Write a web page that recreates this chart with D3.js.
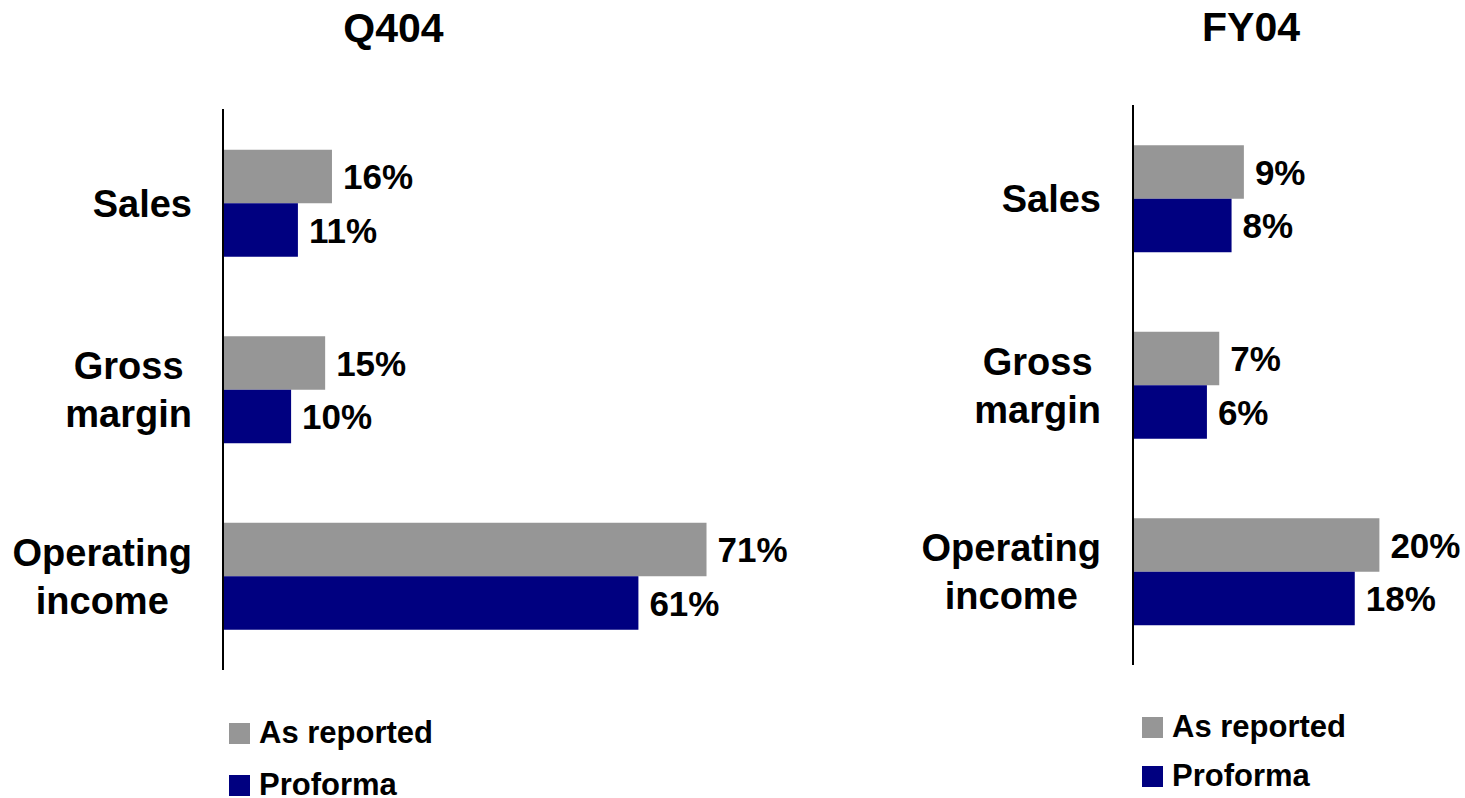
<!DOCTYPE html>
<html>
<head>
<meta charset="utf-8">
<script src="https://cdn.jsdelivr.net/npm/d3@7/dist/d3.min.js"></script>
<style>
  html, body { margin: 0; padding: 0; background: #fff; }
  svg { display: block; }
  text { font-family: "Liberation Sans", Arial, Helvetica, sans-serif; font-weight: bold; fill: #000; }
</style>
</head>
<body>
<svg id="chart" width="1465" height="798"></svg>
<script>
// Growth rates, as reported vs. proforma
const categories = ["Sales", "Gross margin", "Operating income"];
const seriesNames = ["As reported", "Proforma"];
const q404Reported = [16, 15, 71];
const q404Proforma = [11, 10, 61];
const fy04Reported = [9, 7, 20];
const fy04Proforma = [8, 6, 18];

const colors = { "As reported": "#969696", "Proforma": "#000080" };

const svg = d3.select("#chart");

// Layout of the two side-by-side panels
const panels = [
  {
    title: "Q404", titleX: 393.5, titleY: 42,
    reported: q404Reported, proforma: q404Proforma,
    axisX: 223, axisTop: 109, axisBottom: 670,
    bandTop: 110, bandBottom: 669.5,
    pxPerUnit: 6.81, labelRight: 192,
    legend: { x: 229, y: 723, gap: 52 }
  },
  {
    title: "FY04", titleX: 1251, titleY: 41,
    reported: fy04Reported, proforma: fy04Proforma,
    axisX: 1133, axisTop: 105, axisBottom: 665,
    bandTop: 105.5, bandBottom: 665,
    pxPerUnit: 12.32, labelRight: 1101,
    legend: { x: 1142, y: 717, gap: 49 }
  }
];

panels.forEach(p => {
  const g = svg.append("g");

  const x = d3.scaleLinear()
    .domain([0, 100])
    .range([p.axisX, p.axisX + 100 * p.pxPerUnit]);

  const y = d3.scaleBand()
    .domain(categories)
    .range([p.bandTop, p.bandBottom])
    .paddingInner(0.4263)
    .paddingOuter(0.4263 / 2);

  const sub = d3.scaleBand()
    .domain(seriesNames)
    .range([0, y.bandwidth()]);

  // Title
  g.append("text")
    .attr("x", p.titleX)
    .attr("y", p.titleY)
    .attr("text-anchor", "middle")
    .style("font-size", "41px")
    .text(p.title);

  const rows = categories.map((c, i) => ({
    category: c,
    values: [
      { series: "As reported", value: p.reported[i] },
      { series: "Proforma", value: p.proforma[i] }
    ]
  }));

  // Bars
  const rowG = g.selectAll("g.row")
    .data(rows)
    .join("g")
    .attr("class", "row")
    .attr("transform", d => `translate(0,${y(d.category)})`);

  rowG.selectAll("rect")
    .data(d => d.values)
    .join("rect")
    .attr("x", x(0))
    .attr("y", d => sub(d.series))
    .attr("width", d => x(d.value) - x(0))
    .attr("height", sub.bandwidth())
    .attr("fill", d => colors[d.series]);

  // Value labels
  rowG.selectAll("text.value")
    .data(d => d.values)
    .join("text")
    .attr("class", "value")
    .attr("x", d => x(d.value) + 11)
    .attr("y", d => sub(d.series) + sub.bandwidth() / 2)
    .attr("dy", "0.36em")
    .style("font-size", "35px")
    .text(d => d.value + "%");

  // Category labels: centered lines, block right-aligned beside the axis
  const lineHeight = 48;
  rows.forEach(r => {
    const lines = r.category.split(" ");
    const t = g.append("text")
      .attr("text-anchor", "middle")
      .style("font-size", "38px");
    const center = y(r.category) + y.bandwidth() / 2;
    const firstBaseline = center + 13.6 - (lines.length - 1) * lineHeight / 2;
    lines.forEach((ln, i) => {
      t.append("tspan")
        .attr("y", firstBaseline + i * lineHeight)
        .text(ln);
    });
    const maxW = d3.max(t.selectAll("tspan").nodes(), n => n.getComputedTextLength());
    t.selectAll("tspan").attr("x", p.labelRight - maxW / 2);
  });

  // Vertical category axis line
  g.append("line")
    .attr("x1", p.axisX).attr("x2", p.axisX)
    .attr("y1", p.axisTop).attr("y2", p.axisBottom)
    .attr("stroke", "#000")
    .attr("stroke-width", 2);

  // Legend
  const lg = g.selectAll("g.legend")
    .data(seriesNames)
    .join("g")
    .attr("class", "legend")
    .attr("transform", (d, i) => `translate(${p.legend.x},${p.legend.y + i * p.legend.gap})`);

  lg.append("rect")
    .attr("width", 21)
    .attr("height", 21)
    .attr("fill", d => colors[d]);

  lg.append("text")
    .attr("x", 30)
    .attr("y", 20)
    .style("font-size", "31px")
    .text(d => d);
});
</script>
</body>
</html>
